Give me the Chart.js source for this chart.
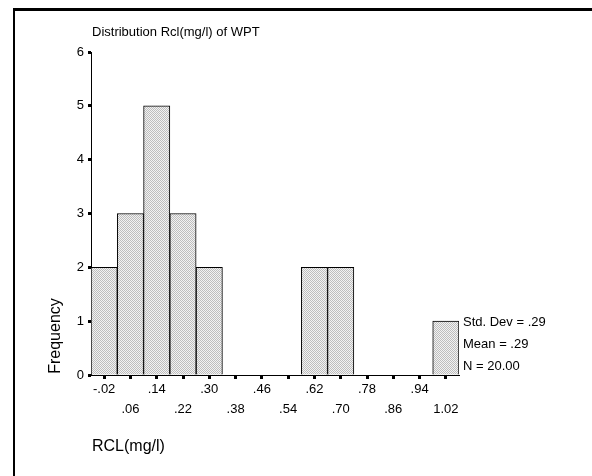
<!DOCTYPE html>
<html lang="en">
<head>
  <meta charset="UTF-8">
  <title>Distribution Rcl(mg/l) of WPT</title>
  <style>
    body { margin: 0; background: #fff; }
    .wrap { position: relative; width: 592px; height: 476px; }
    /* SPSS style frame, only top and left edges visible */
    .frame {
      position: absolute; left: 13px; top: 8px; right: 0; bottom: 0;
      border-top: 3px solid #000; border-left: 2px solid #000;
    }
    canvas { position: absolute; left: 0; top: 0; }
  </style>
</head>
<body>
  <div class="wrap">
    <div class="frame"></div>
    <canvas id="histChart" width="592" height="476"></canvas>
  </div>

  <script src="https://cdn.jsdelivr.net/npm/chart.js"></script>
  <script>
    // bin midpoints and counts
    const binLabels = ['-.02', '.06', '.14', '.22', '.30', '.38', '.46', '.54', '.62', '.70', '.78', '.86', '.94', '1.02'];
    const counts = [2, 3, 5, 3, 2, 0, 0, 0, 2, 2, 0, 0, 0, 1];
    const yTicks = [0, 1, 2, 3, 4, 5, 6];
    const statLines = ['Std. Dev = .29', 'Mean = .29', 'N = 20.00'];

    const FONT = '"Liberation Sans", Arial, sans-serif';

    // fine checker fill like the SPSS bars
    function hatch() {
      const c = document.createElement('canvas');
      c.width = 2; c.height = 2;
      const g = c.getContext('2d');
      g.fillStyle = '#f2f2f2';
      g.fillRect(0, 0, 2, 2);
      g.fillStyle = '#bdbdbd';
      g.fillRect(0, 0, 1, 1);
      g.fillRect(1, 1, 1, 1);
      return g.createPattern(c, 'repeat');
    }

    // titles and the stats box
    const textPlugin = {
      id: 'texts',
      afterDraw(chart) {
        const ctx = chart.ctx;
        const area = chart.chartArea;
        ctx.save();
        ctx.fillStyle = '#000';
        ctx.textAlign = 'left';
        ctx.textBaseline = 'middle';

        ctx.font = '13px ' + FONT;
        ctx.fillText('Distribution Rcl(mg/l) of WPT', area.left + 1, 32);

        statLines.forEach((s, i) => {
          ctx.fillText(s, area.right + 4, 322 + i * 22);
        });

        ctx.font = '16px ' + FONT;
        ctx.fillText('RCL(mg/l)', area.left + 1, 447);

        ctx.translate(56, 336);
        ctx.rotate(-Math.PI / 2);
        ctx.textAlign = 'center';
        ctx.fillText('Frequency', 0, 0);
        ctx.restore();
      }
    };

    const ctx = document.getElementById('histChart').getContext('2d');
    new Chart(ctx, {
      type: 'bar',
      data: {
        labels: binLabels,
        datasets: [{
          data: counts,
          backgroundColor: hatch(),
          borderColor: '#000',
          borderWidth: 1,
          borderSkipped: 'bottom',
          barPercentage: 1,
          categoryPercentage: 1
        }]
      },
      options: {
        responsive: false,
        animation: false,
        layout: { padding: { left: 0, right: 133, top: 52, bottom: 0 } },
        plugins: {
          legend: { display: false },
          tooltip: { enabled: false }
        },
        scales: {
          x: {
            afterFit: (s) => { s.height = 101; },
            border: { display: true, color: '#000', width: 1 },
            grid: {
              offset: false,
              drawOnChartArea: false,
              drawTicks: true,
              tickLength: 4,
              tickWidth: 3,
              tickColor: '#000'
            },
            ticks: {
              autoSkip: false,
              maxRotation: 0,
              padding: 0,
              color: '#000',
              font: { family: FONT, size: 13, lineHeight: 1.54 },
              // stagger the labels on two rows
              callback: (v, i) => (i % 2 === 0 ? [binLabels[i], ''] : ['', binLabels[i]])
            }
          },
          y: {
            min: yTicks[0],
            max: yTicks[yTicks.length - 1],
            afterFit: (s) => { s.width = 91; },
            border: { display: true, color: '#000', width: 1 },
            grid: {
              drawOnChartArea: false,
              drawTicks: true,
              tickLength: 3,
              tickWidth: 3,
              tickColor: '#000'
            },
            ticks: {
              stepSize: 1,
              padding: 4,
              color: '#000',
              font: { family: FONT, size: 13 }
            }
          }
        }
      },
      plugins: [textPlugin]
    });
  </script>
</body>
</html>
